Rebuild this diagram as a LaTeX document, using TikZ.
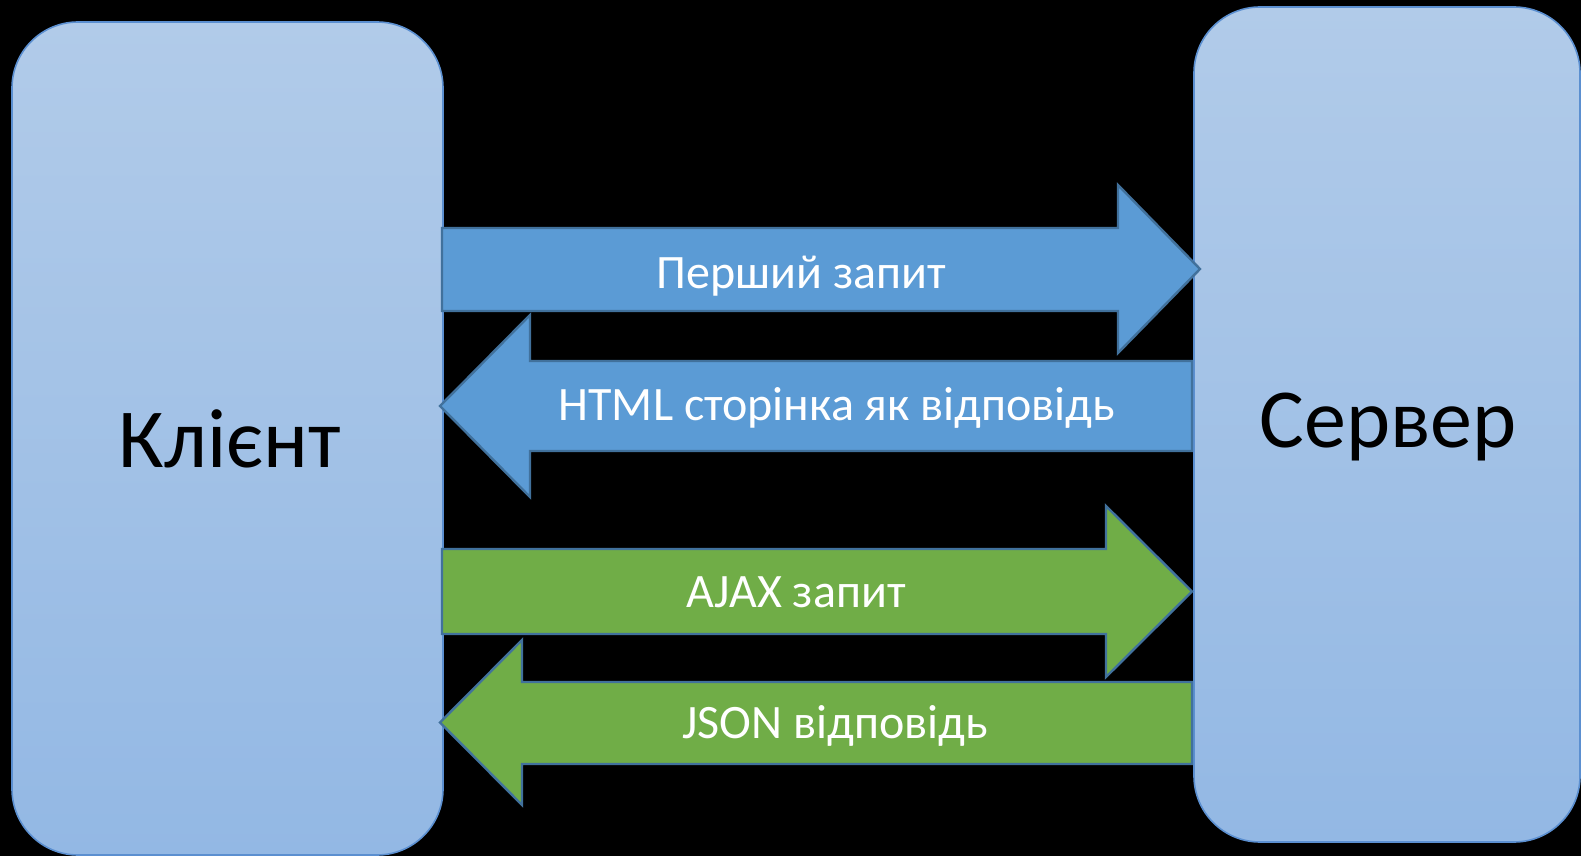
\documentclass[tikz,border=0pt]{standalone}
\usepackage{fontspec}
\setmainfont{Carlito}
\definecolor{boxtop}{HTML}{B1CBE9}
\definecolor{boxbot}{HTML}{93B8E4}
\definecolor{boxline}{HTML}{5B8FD0}
\definecolor{arrblue}{HTML}{5B9BD5}
\definecolor{arrgreen}{HTML}{70AD47}
\definecolor{arrline}{HTML}{41719C}
\begin{document}
\begin{tikzpicture}[x=0.5pt,y=-0.5pt,
  box/.style={draw=boxline, line width=0.8pt, rounded corners=33pt,
    top color=boxtop, bottom color=boxbot, inner sep=0pt},
  bigtext/.style={font=\fontsize{42}{50}\selectfont, text=black, anchor=base, inner sep=0pt},
  arrtext/.style={font=\fontsize{24}{29}\selectfont, text=white, anchor=base, inner sep=0pt},
  bluearrow/.style={fill=arrblue, draw=arrline, line width=1.2pt, line join=miter},
  greenarrow/.style={fill=arrgreen, draw=arrline, line width=1.2pt, line join=miter}]
\fill[black] (0,0) rectangle (1581,856);
\useasboundingbox (0,0) rectangle (1581,856);

% boxes
\node[box, minimum width=215.5pt, minimum height=416.5pt] (client) at (227.5,438.5) {};
\node[box, minimum width=193pt, minimum height=417.5pt] (server) at (1387,424.5) {};

\node[bigtext] (clientlabel) at (230,467) {Клієнт};
\node[bigtext] (serverlabel) at (1388,447) {Сервер};

% arrow 1: first request (right)
\draw[bluearrow] (442,228) -- (1118,228) -- (1118,185) -- (1200,269) -- (1118,353) -- (1118,311) -- (442,311) -- cycle;
% arrow 2: HTML response (left)
\draw[bluearrow] (1192,361) -- (530,361) -- (530,315) -- (440,406) -- (530,497) -- (530,451) -- (1192,451) -- cycle;
% arrow 3: AJAX request (right)
\draw[greenarrow] (442,549) -- (1106,549) -- (1106,506) -- (1192,591.5) -- (1106,677) -- (1106,634) -- (442,634) -- cycle;
% arrow 4: JSON response (left)
\draw[greenarrow] (1192,682) -- (522,682) -- (522,640) -- (440,722.5) -- (522,805) -- (522,764) -- (1192,764) -- cycle;

\node[arrtext] (t1) at (801,288) {Перший запит};
\node[arrtext] (t2) at (837,420) {HTML сторінка як відповідь};
\node[arrtext] (t3) at (796,607) {AJAX запит};
\node[arrtext] (t4) at (835,738) {JSON відповідь};
\end{tikzpicture}
\end{document}
